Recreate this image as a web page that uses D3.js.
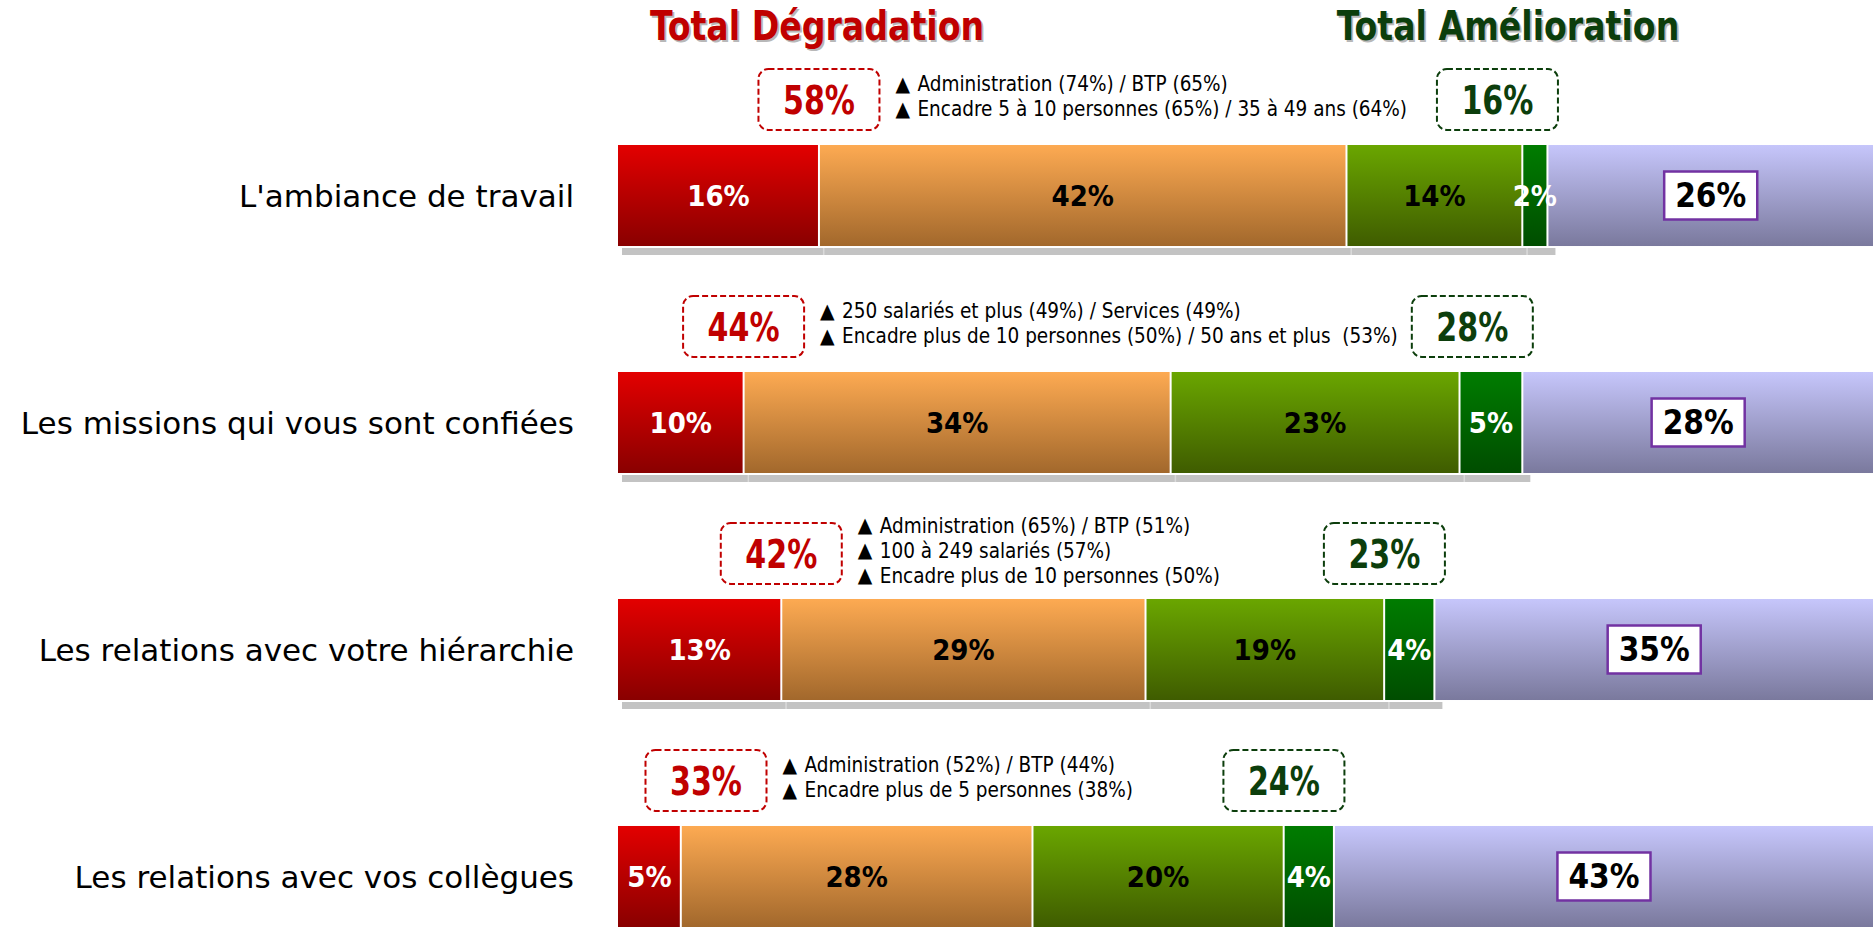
<!DOCTYPE html>
<meta charset="utf-8">
<title>Evolution des conditions de travail</title>
<script src="https://d3js.org/d3.v7.min.js"></script>
<body style="margin: 0; background: #fff;">
<div id="chart"></div>
</body>
<script>
// categories (rows)
const categories = [
  "L'ambiance de travail",
  "Les missions qui vous sont confiées",
  "Les relations avec votre hiérarchie",
  "Les relations avec vos collègues"
]

// series values, in %
const degradForte  = [16, 10, 13, 5]
const degradLegere = [42, 34, 29, 28]
const amelLegere   = [14, 23, 19, 20]
const amelForte    = [2, 5, 4, 4]
const inchange     = [26, 28, 35, 43]

// totals shown in the dashed boxes
const totalDegrad = [58, 44, 42, 33]
const totalAmel   = [16, 28, 23, 24]

// over-representations listed next to the degradation total
const details = [
  ["Administration (74%) / BTP (65%)", "Encadre 5 à 10 personnes (65%) / 35 à 49 ans (64%)"],
  ["250 salariés et plus (49%) / Services (49%)", "Encadre plus de 10 personnes (50%) / 50 ans et plus  (53%)"],
  ["Administration (65%) / BTP (51%)", "100 à 249 salariés (57%)", "Encadre plus de 10 personnes (50%)"],
  ["Administration (52%) / BTP (44%)", "Encadre plus de 5 personnes (38%)"]
]

const seriesKeys = ["degradForte", "degradLegere", "amelLegere", "amelForte", "inchange"]
const seriesData = [degradForte, degradLegere, amelLegere, amelForte, inchange]
const grad = {
  degradForte:  ["#e30000", "#890000"],
  degradLegere: ["#fdaa52", "#a2682c"],
  amelLegere:   ["#6aa600", "#3f5c00"],
  amelForte:    ["#007c00", "#004d00"],
  inchange:     ["#c6c6fb", "#7a799d"]
}
const labelColor = {degradForte: "#fff", degradLegere: "#000", amelLegere: "#000", amelForte: "#fff", inchange: "#000"}

const width = 1874, height = 928
const condensed = "'DejaVu Sans Condensed', 'DejaVu Sans', sans-serif"
const red = "#c00000", green = "#0c3e0c"

const svg = d3.select("#chart").append("svg")
    .attr("width", width)
    .attr("height", height)
    .style("display", "block")

const defs = svg.append("defs")
seriesKeys.forEach(k => {
  const g = defs.append("linearGradient").attr("id", "g-" + k)
      .attr("x1", 0).attr("y1", 0).attr("x2", 0).attr("y2", 1)
  g.append("stop").attr("offset", "0%").attr("stop-color", grad[k][0])
  g.append("stop").attr("offset", "100%").attr("stop-color", grad[k][1])
})

const x = d3.scaleLinear().domain([0, 100]).range([618, 1874])
const y = d3.scaleBand().domain(categories).range([145, 927]).paddingInner(0.555).paddingOuter(0)

// stacked rows
const rows = categories.map((c, i) => {
  let cum = 0
  const segs = seriesKeys.map((k, j) => {
    const v = seriesData[j][i]
    const s = {key: k, v: v, x0: cum, x1: cum + v}
    cum += v
    return s
  })
  return {cat: c, i: i, segs: segs}
})

// titles (narrowed bold text with a soft grey shadow)
function shadowText(txt, cx, cy, color) {
  const g = svg.append("g")
      .attr("transform", `translate(${cx},${cy}) scale(0.9,1)`)
      .attr("font-family", condensed).attr("font-weight", "bold")
      .attr("font-size", 41).attr("text-anchor", "middle")
  g.append("text").attr("x", 2).attr("y", 2).attr("fill", "#b8b8b8").text(txt)
  g.append("text").attr("fill", color).text(txt)
}
shadowText("Total Dégradation", 817, 40, red)
shadowText("Total Amélioration", 1508, 40, green)

const row = svg.selectAll("g.row")
  .data(rows)
  .join("g")
    .attr("class", "row")

// drop shadow under the degradation + amelioration segments
row.append("rect")
    .attr("x", d => x(0) + 4)
    .attr("y", d => y(d.cat) + y.bandwidth() + 2)
    .attr("width", d => x(d.segs[3].x1) - x(0) + 4)
    .attr("height", 7)
    .attr("fill", "#c3c3c3")
row.selectAll("rect.sep")
  .data(d => d.segs.slice(0, 3).map(s => ({cat: d.cat, x: s.x1})))
  .join("rect")
    .attr("class", "sep")
    .attr("x", d => x(d.x) + 4)
    .attr("y", d => y(d.cat) + y.bandwidth() + 2)
    .attr("width", 1.5)
    .attr("height", 7)
    .attr("fill", "#dadada")

// segments
row.selectAll("rect.seg")
  .data(d => d.segs.map(s => Object.assign({cat: d.cat}, s)))
  .join("rect")
    .attr("class", "seg")
    .attr("x", d => x(d.x0) + (d.x0 > 0 ? 1 : 0))
    .attr("y", d => y(d.cat))
    .attr("width", d => Math.max(0, x(d.x1) - x(d.x0) - (d.x0 > 0 ? 2 : 1)))
    .attr("height", y.bandwidth())
    .attr("fill", d => `url(#g-${d.key})`)

// segment labels
row.selectAll("text.seg")
  .data(d => d.segs.filter(s => s.key !== "inchange").map(s => Object.assign({cat: d.cat}, s)))
  .join("text")
    .attr("class", "seg")
    .attr("x", d => x((d.x0 + d.x1) / 2))
    .attr("y", d => y(d.cat) + y.bandwidth() / 2)
    .attr("dy", "0.36em")
    .attr("text-anchor", "middle")
    .attr("font-family", condensed)
    .attr("font-weight", "bold")
    .attr("font-size", 29)
    .attr("fill", d => labelColor[d.key])
    .text(d => d.v + "%")

// "inchangé" label in a framed white box
row.each(function(d) {
  const s = d.segs[4]
  const g = d3.select(this).append("g")
      .attr("transform", `translate(${x((s.x0 + s.x1) / 2)},${y(d.cat) + y.bandwidth() / 2})`)
  const box = g.append("rect")
  const t = g.append("text")
      .attr("dy", "0.36em")
      .attr("text-anchor", "middle")
      .attr("font-family", condensed)
      .attr("font-weight", "bold")
      .attr("font-size", 33)
      .attr("fill", "#000")
      .text(s.v + "%")
  const w = t.node().getComputedTextLength() + 22
  box.attr("x", -w / 2).attr("y", -24).attr("width", w).attr("height", 48)
      .attr("fill", "#fff").attr("stroke", "#7232a2").attr("stroke-width", 2.5)
})

// category labels
row.append("text")
    .attr("x", 574)
    .attr("y", d => y(d.cat) + y.bandwidth() / 2)
    .attr("dy", "0.36em")
    .attr("text-anchor", "end")
    .attr("font-family", "'DejaVu Sans', sans-serif")
    .attr("font-size", 31)
    .attr("fill", "#000")
    .text(d => d.cat)

// total boxes (dashed) above each bar
const boxW = 121, boxH = 61
function totalBox(sel, cx, cy, txt, color) {
  sel.append("rect")
      .attr("x", cx - boxW / 2).attr("y", cy - boxH / 2)
      .attr("width", boxW).attr("height", boxH)
      .attr("rx", 10)
      .attr("fill", "none")
      .attr("stroke", color)
      .attr("stroke-width", 2)
      .attr("stroke-dasharray", "6,3")
  sel.append("text")
      .attr("transform", `translate(${cx},${cy}) scale(0.88,1.05)`)
      .attr("dy", "0.36em")
      .attr("text-anchor", "middle")
      .attr("font-family", condensed)
      .attr("font-weight", "bold")
      .attr("font-size", 38)
      .attr("fill", color)
      .text(txt)
}
row.each(function(d) {
  const g = d3.select(this)
  const cy = y(d.cat) - 15 - boxH / 2
  const redCx = Math.max(x(d.segs[0].x1), x(0) + 88)
  totalBox(g, redCx, cy, totalDegrad[d.i] + "%", red)
  totalBox(g, x(d.segs[3].x1) - 50, cy, totalAmel[d.i] + "%", green)

  const lines = details[d.i]
  const tx = redCx + boxW / 2 + 16
  const det = g.selectAll("g.det")
    .data(lines)
    .join("g")
      .attr("class", "det")
      .attr("transform", (l, k) => `translate(${tx},${cy - 3 + (k - (lines.length - 1) / 2) * 25})`)
  det.append("text")
      .attr("dy", "0.33em")
      .attr("font-family", condensed)
      .attr("font-size", 21)
      .attr("fill", "#000")
      .text("▲")
  det.append("text")
      .attr("x", 22)
      .attr("dy", "0.36em")
      .attr("font-family", condensed)
      .attr("font-size", 20.5)
      .attr("fill", "#000")
      .style("white-space", "pre")
      .text(l => l)
})
</script>
